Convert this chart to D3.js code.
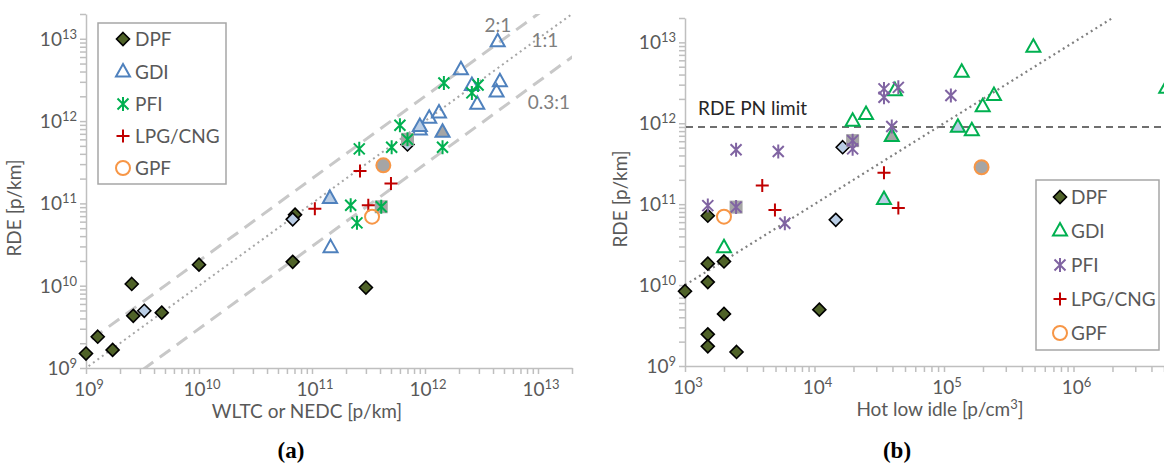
<!DOCTYPE html>
<html><head><meta charset="utf-8">
<script src="https://cdn.jsdelivr.net/npm/d3@7"></script>
<style>
html,body{margin:0;padding:0;background:#fff;}
svg{display:block;}
text{font-family:Lato,"Open Sans",sans-serif;}
text.panel{font-family:"Liberation Serif","DejaVu Serif",serif;font-weight:bold;}
</style></head>
<body>
<svg id="c" width="1164" height="466"></svg>
<script>
// ---------- DATA ----------
// point = [x, y, fillGroup]  (0 = normal, 1 = light-blue filled, 2 = grey filled)
// Panel (a): RDE vs WLTC/NEDC [p/km]
const dpfA = [[1.0e9,1.5e9,0],[1.27e9,2.4e9,0],[1.72e9,1.66e9,0],[2.54e9,1.05e10,0],[2.62e9,4.3e9,0],[3.28e9,4.96e9,1],[4.68e9,4.7e9,0],[1.0e10,1.8e10,0],[6.75e10,1.95e10,0],[7.08e10,7.3e10,0],[6.75e10,6.4e10,1],[3.0e11,9.5e9,0],[7.0e11,5.2e11,1]];
const gdiA = [[4.4e12,9.2e12,0],[2.08e12,4.2e12,0],[4.6e12,3.0e12,0],[4.3e12,2.25e12,0],[2.6e12,2.7e12,0],[2.9e12,1.6e12,0],[1.33e12,1.25e12,0],[1.09e12,1.08e12,0],[9.0e11,7.8e11,0],[9.0e11,8.6e11,1],[1.43e12,7.3e11,2],[1.44e11,1.15e11,1],[1.46e11,2.9e10,0]];
const pfiA = [[1.47e12,2.9e12,0],[2.95e12,2.75e12,0],[2.6e12,2.2e12,0],[6.0e11,8.9e11,0],[7.0e11,6.0e11,2],[2.62e11,4.6e11,0],[5.07e11,4.8e11,0],[1.43e12,4.8e11,0],[2.2e11,9.5e10,0],[4.1e11,9.1e10,2],[2.5e11,5.8e10,0]];
const lpgA = [[2.66e11,2.48e11,0],[5.0e11,1.75e11,0],[1.06e11,8.6e10,0],[3.15e11,9.5e10,0]];
const gpfA = [[4.28e11,2.9e11,2],[3.4e11,6.9e10,0]];
const ratioLines = [2, 1, 0.3];
const ratioLabels = ["2:1", "1:1", "0.3:1"];

// Panel (b): RDE vs hot low idle [p/cm3]
const dpfB = [[1e3,8.4e9,0],[1.5e3,7.2e10,0],[1.5e3,1.84e10,0],[1.5e3,1.09e10,0],[2e3,1.96e10,0],[2e3,4.4e9,0],[1.5e3,2.46e9,0],[1.5e3,1.75e9,0],[2.5e3,1.49e9,0],[1.09e4,4.97e9,0],[1.46e4,6.4e10,1],[1.65e4,5.06e11,1]];
const gdiB = [[2e3,2.9e10,0],[1.97e4,1.06e12,0],[2.5e4,1.28e12,0],[4.18e4,2.53e12,0],[3.95e4,6.85e11,2],[1.37e5,4.26e12,0],[2.43e5,2.2e12,0],[1.99e5,1.6e12,0],[1.28e5,8.9e11,1],[1.64e5,8.1e11,0],[4.9e5,8.7e12,0],[5.2e6,2.7e12,0],[3.44e4,1.14e11,1]];
const pfiB = [[1.5e3,9.6e10,0],[2.48e3,9.2e10,2],[5.9e3,5.8e10,0],[2.48e3,4.7e11,0],[5.25e3,4.47e11,0],[1.97e4,6.1e11,2],[1.97e4,4.83e11,0],[3.44e4,2.66e12,0],[3.44e4,2.1e12,0],[4.44e4,2.78e12,0],[3.95e4,9.1e11,0],[1.13e5,2.2e12,0]];
const lpgB = [[3.95e3,1.7e11,0],[4.95e3,8.5e10,0],[3.44e4,2.44e11,0],[4.44e4,9.0e10,0]];
const gpfB = [[2e3,7.0e10,0],[1.95e5,2.86e11,2]];
const rdeLimit = 9e11;
const trendFactor = 1e7;   // RDE = 1e7 * idle
const trendRange = [1e3, 2e6];

const seriesNames = ["DPF", "GDI", "PFI", "LPG/CNG", "GPF"];

// ---------- DRAWING ----------
const svg = d3.select("#c");
const axisCol = "#bfbfbf", textCol = "#595959";
const groupFill = ["none", "#b9cde5", "#a5a5a5"];

function minorTicks(lo, hi) {
  const t = [];
  for (let e = Math.floor(Math.log10(lo)); e <= Math.ceil(Math.log10(hi)); e++)
    for (let m = 1; m <= 9; m++) { const v = m * Math.pow(10, e); if (v >= lo * 0.999 && v <= hi * 1.001) t.push(v); }
  return t;
}
function powLabel(sel, v) {
  const e = Math.round(Math.log10(v));
  sel.append("tspan").text("10");
  sel.append("tspan").attr("font-size", 13).attr("dy", -7).text(e);
}

function drawAxes(g, x, y, xLabel, yLabelX, yLabelY, xTitleX, xMaxShown) {
  const xd = x.domain(), yd = y.domain();
  const xAxis = d3.axisBottom(x).tickValues(minorTicks(xd[0], xd[1])).tickSize(6).tickSizeOuter(0).tickFormat("");
  const yAxis = d3.axisLeft(y).tickValues(minorTicks(yd[0], yd[1])).tickSize(6).tickSizeOuter(0).tickFormat("");
  const gx = g.append("g").attr("transform", `translate(0,${y.range()[0]})`).call(xAxis);
  const gy = g.append("g").attr("transform", `translate(${x.range()[0]},0)`).call(yAxis);
  [gx, gy].forEach(a => { a.selectAll("path,line").attr("stroke", axisCol).attr("stroke-width", 1.5); });
  const xp = []; for (let e = Math.ceil(Math.log10(xd[0])); Math.pow(10, e) <= Math.min(xd[1], xMaxShown); e++) xp.push(Math.pow(10, e));
  const yp = []; for (let e = Math.ceil(Math.log10(yd[0])); Math.pow(10, e) <= yd[1]; e++) yp.push(Math.pow(10, e));
  xp.forEach(v => {
    g.append("text").attr("x", x(v) + 3).attr("y", y.range()[0] + 28).attr("text-anchor", "middle")
      .attr("fill", textCol).attr("font-size", 19).call(powLabel, v);
  });
  yp.forEach(v => {
    g.append("text").attr("x", x.range()[0] - 9).attr("y", y(v) + 7).attr("text-anchor", "end")
      .attr("fill", textCol).attr("font-size", 19).call(powLabel, v);
  });
  g.append("text").attr("x", xTitleX).attr("y", y.range()[0] + 50).attr("text-anchor", "middle")
    .attr("fill", textCol).attr("font-size", 19).html(xLabel);
  g.append("text").attr("transform", `translate(${yLabelX},${yLabelY}) rotate(-90)`).attr("text-anchor", "middle")
    .attr("fill", textCol).attr("font-size", 19).text("RDE [p/km]");
}

function marker(g, type, px, py, grp, color) {
  const m = g.append("g").attr("transform", `translate(${px},${py})`);
  if (type === "diamond") {
    m.append("path").attr("d", "M0,-6.5L6.5,0L0,6.5L-6.5,0Z")
      .attr("fill", grp === 1 ? groupFill[1] : "#4f6228").attr("stroke", "#000").attr("stroke-width", 1.6);
  } else if (type === "triangle") {
    m.append("path").attr("d", "M0,-8L7,4.5L-7,4.5Z")
      .attr("fill", groupFill[grp]).attr("stroke", color).attr("stroke-width", 2);
  } else if (type === "star") {
    if (grp === 2) m.append("rect").attr("x", -6.5).attr("y", -6.5).attr("width", 13).attr("height", 13).attr("fill", groupFill[2]);
    m.append("path").attr("d", "M0,-7V7M-5.5,-5.5L5.5,5.5M-5.5,5.5L5.5,-5.5")
      .attr("stroke", color).attr("stroke-width", 2).attr("fill", "none");
  } else if (type === "plus") {
    m.append("path").attr("d", "M-6.5,0H6.5M0,-6.5V6.5").attr("stroke", color).attr("stroke-width", 2);
  } else if (type === "circle") {
    m.append("circle").attr("r", 7).attr("fill", groupFill[grp]).attr("stroke", color).attr("stroke-width", 2);
  }
}

function drawSeries(g, x, y, data, type, color) {
  data.forEach(d => marker(g, type, x(d[0]), y(d[1]), d[2], color));
}

function legend(g, x0, y0, w, h, rowY, mx, tx, types, colors) {
  g.append("rect").attr("x", x0).attr("y", y0).attr("width", w).attr("height", h)
    .attr("fill", "#fff").attr("stroke", "#a6a6a6").attr("stroke-width", 1.5);
  seriesNames.forEach((n, i) => {
    marker(g, types[i], mx, rowY[i], 0, colors[i]);
    g.append("text").attr("x", tx).attr("y", rowY[i] + 7).attr("fill", textCol).attr("font-size", 19).text(n);
  });
}

const types = ["diamond", "triangle", "star", "plus", "circle"];

// ----- Panel (a) -----
{
  const xA = d3.scaleLog().domain([1e9, 2e13]).range([86, 572]);
  const yA = d3.scaleLog().domain([1e9, 2e13]).range([368, 14]);
  const g = svg.append("g");
  const clip = svg.append("clipPath").attr("id", "clipA");
  clip.append("rect").attr("x", 86).attr("y", 14).attr("width", 486).attr("height", 354);
  const lines = g.append("g").attr("clip-path", "url(#clipA)");
  ratioLines.forEach(r => {
    const xs = [1e8, 1e14];
    lines.append("line").attr("x1", xA(xs[0])).attr("y1", yA(xs[0] * r)).attr("x2", xA(xs[1])).attr("y2", yA(xs[1] * r))
      .attr("stroke", r === 1 ? "#a6a6a6" : "#c8c8c8").attr("stroke-width", r === 1 ? 2 : 3)
      .attr("stroke-dasharray", r === 1 ? "2,3.5" : "13,8");
  });
  drawAxes(g, xA, yA, "WLTC or NEDC [p/km]", 21, 208, 307, 1e13);
  const lp = [[498, 32], [545, 47], [549, 109]];
  ratioLabels.forEach((t, i) => g.append("text").attr("x", lp[i][0]).attr("y", lp[i][1]).attr("text-anchor", "middle")
    .attr("fill", "#7f7f7f").attr("font-size", 19).text(t));
  const colA = ["#000", "#4f81bd", "#00b050", "#c00000", "#f79646"];
  [dpfA, gdiA, pfiA, lpgA, gpfA].forEach((d, i) => drawSeries(g, xA, yA, d, types[i], colA[i]));
  legend(g, 98, 23, 128, 161, [39, 72, 104, 136, 168], 123, 135, types, colA);
  g.append("text").attr("class", "panel").attr("x", 291).attr("y", 458).attr("text-anchor", "middle")
    .attr("font-size", 23).attr("fill", "#000").text("(a)");
}

// ----- Panel (b) -----
{
  const xB = d3.scaleLog().domain([1e3, 1e7]).range([685, 1203]);
  const yB = d3.scaleLog().domain([1e9, 2e13]).range([366, 18]);
  const g = svg.append("g");
  drawAxes(g, xB, yB, "Hot low idle [p/cm<tspan font-size='13' dy='-7'>3</tspan><tspan dy='7'>]</tspan>", 627, 199, 940, 1e6);
  g.append("line").attr("x1", 686).attr("x2", 1164).attr("y1", yB(rdeLimit)).attr("y2", yB(rdeLimit))
    .attr("stroke", "#404040").attr("stroke-width", 1.6).attr("stroke-dasharray", "7,5");
  g.append("text").attr("x", 698).attr("y", yB(rdeLimit) - 12).attr("fill", "#262626").attr("font-size", 19).text("RDE PN limit");
  g.append("line").attr("x1", xB(trendRange[0])).attr("y1", yB(trendRange[0] * trendFactor))
    .attr("x2", xB(trendRange[1])).attr("y2", yB(trendRange[1] * trendFactor))
    .attr("stroke", "#808080").attr("stroke-width", 2.2).attr("stroke-dasharray", "2,3.5");
  const colB = ["#000", "#00b050", "#8064a2", "#c00000", "#f79646"];
  [dpfB, gdiB, pfiB, lpgB, gpfB].forEach((d, i) => drawSeries(g, xB, yB, d, types[i], colB[i]));
  legend(g, 1036, 180, 123, 170, [197, 231, 265, 299, 333], 1060, 1071, types, colB);
  g.append("text").attr("class", "panel").attr("x", 897).attr("y", 458).attr("text-anchor", "middle")
    .attr("font-size", 23).attr("fill", "#000").text("(b)");
}
</script>
</body></html>
